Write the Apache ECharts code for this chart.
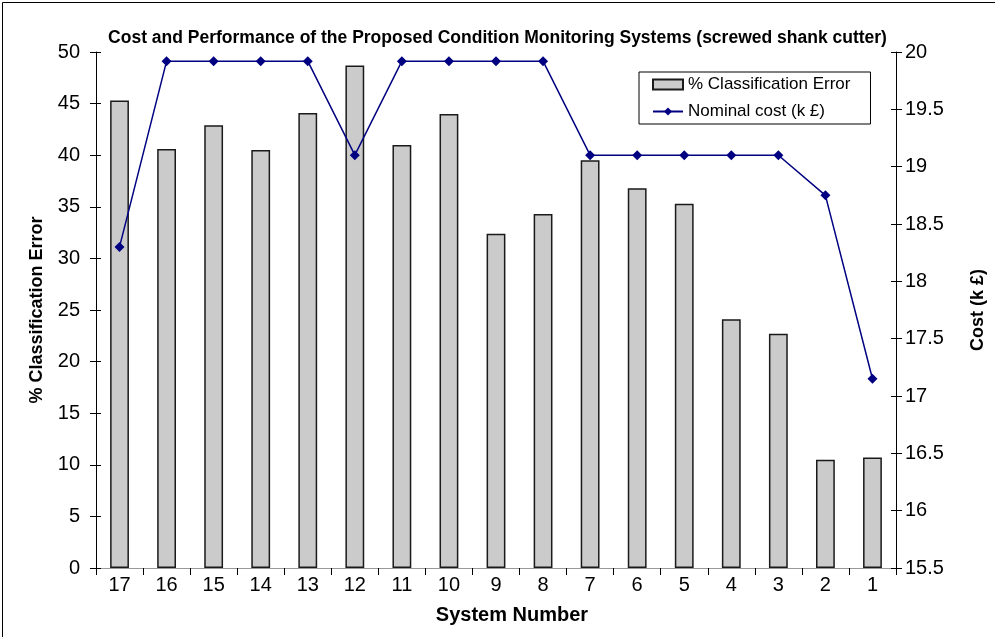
<!DOCTYPE html>
<html>
<head>
<meta charset="utf-8">
<script src="https://cdn.jsdelivr.net/npm/echarts@6/dist/echarts.min.js"></script>
<style>
html,body{margin:0;padding:0;background:#fff;}
#c{width:995px;height:637px;}
</style>
</head>
<body>
<div id="c"></div>
<script>
var categories = ['17','16','15','14','13','12','11','10','9','8','7','6','5','4','3','2','1'];
var errorValues = [45.3, 40.6, 42.9, 40.5, 44.1, 48.7, 41.0, 44.0, 32.4, 34.3, 39.5, 36.8, 35.3, 24.1, 22.7, 10.5, 10.7];
var costValues = [18.3, 19.92, 19.92, 19.92, 19.92, 19.1, 19.92, 19.92, 19.92, 19.92, 19.1, 19.1, 19.1, 19.1, 19.1, 18.75, 17.15];
var leftTicks = {min: 0, max: 50, interval: 5};
var rightTicks = {min: 15.5, max: 20, interval: 0.5};

var FONT = 'Liberation Sans, Arial, sans-serif';
var chart = echarts.init(document.getElementById('c'), null, {renderer: 'canvas'});
var option = {
  backgroundColor: '#ffffff',
  animation: false,
  title: {
    text: 'Cost and Performance of the Proposed Condition Monitoring Systems (screwed shank cutter)',
    left: 'center', top: 24,
    textStyle: {fontFamily: FONT, fontSize: 17.5, fontWeight: 'bold', color: '#000'}
  },
  graphic: [{
    type: 'rect', left: 0, top: 0,
    shape: {x: 0.5, y: 0.5, width: 993, height: 635},
    style: {fill: 'none', stroke: '#000', lineWidth: 1}
  }],
  legend: {
    orient: 'vertical', left: 639, top: 72,
    padding: [4, 20, 4, 13], itemGap: 10,
    itemWidth: 30, itemHeight: 10,
    borderColor: '#000', borderWidth: 1, backgroundColor: '#fff',
    textStyle: {fontFamily: FONT, fontSize: 17, color: '#000'},
    data: [
      {name: '% Classification Error', icon: 'rect'},
      {name: 'Nominal cost (k \u00a3)'}
    ]
  },
  grid: {left: 96, right: 99, top: 52, bottom: 69, containLabel: false},
  xAxis: [{
    type: 'category', data: categories, boundaryGap: true,
    axisLine: {lineStyle: {color: '#000', width: 1}},
    axisTick: {show: true, alignWithLabel: false, length: 7, lineStyle: {color: '#000'}},
    axisLabel: {fontFamily: FONT, fontSize: 20, color: '#000', margin: 7},
    name: 'System Number', nameLocation: 'middle', nameGap: 37,
    nameTextStyle: {fontFamily: FONT, fontSize: 20, fontWeight: 'bold', color: '#000', padding: [0, 0, 0, 32]}
  }, {
    type: 'category', data: categories, position: 'top',
    axisLine: {lineStyle: {color: '#999', width: 1}},
    axisTick: {show: false}, axisLabel: {show: false}
  }],
  yAxis: [{
    type: 'value', position: 'left', min: leftTicks.min, max: leftTicks.max, interval: leftTicks.interval,
    axisLine: {show: true, lineStyle: {color: '#000', width: 1}},
    axisTick: {show: true, length: 6, lineStyle: {color: '#000'}},
    axisLabel: {fontFamily: FONT, fontSize: 20, color: '#000', margin: 16},
    splitLine: {show: false},
    name: '% Classification Error', nameLocation: 'middle', nameGap: 50,
    nameTextStyle: {fontFamily: FONT, fontSize: 18, fontWeight: 'bold', color: '#000'}
  }, {
    type: 'value', position: 'right', min: rightTicks.min, max: rightTicks.max, interval: rightTicks.interval,
    axisLine: {show: true, lineStyle: {color: '#000', width: 1}},
    axisTick: {show: true, length: 6, lineStyle: {color: '#000'}},
    axisLabel: {fontFamily: FONT, fontSize: 20, color: '#000', margin: 9},
    splitLine: {show: false},
    name: 'Cost (k \u00a3)', nameLocation: 'middle', nameGap: 73,
    nameTextStyle: {fontFamily: FONT, fontSize: 18, fontWeight: 'bold', color: '#000'}
  }, {
    type: 'value', position: 'left', min: leftTicks.min, max: leftTicks.max, interval: leftTicks.interval,
    axisLine: {show: false},
    axisTick: {show: true, inside: true, length: 5, lineStyle: {color: '#000'}},
    axisLabel: {show: false}, splitLine: {show: false}
  }, {
    type: 'value', position: 'right', min: rightTicks.min, max: rightTicks.max, interval: rightTicks.interval,
    axisLine: {show: false},
    axisTick: {show: true, inside: true, length: 5, lineStyle: {color: '#000'}},
    axisLabel: {show: false}, splitLine: {show: false}
  }],
  series: [{
    name: '% Classification Error', type: 'bar', data: errorValues,
    xAxisIndex: 0, yAxisIndex: 0, barWidth: '40%',
    itemStyle: {color: '#cbcbcb', borderColor: '#1a1a1a', borderWidth: 1.5}
  }, {
    name: 'Nominal cost (k \u00a3)', type: 'line', data: costValues,
    xAxisIndex: 0, yAxisIndex: 1,
    symbol: 'diamond', symbolSize: 10,
    lineStyle: {color: '#000080', width: 1.5},
    itemStyle: {color: '#000080'}
  }]
};
chart.setOption(option);
</script>
</body>
</html>
